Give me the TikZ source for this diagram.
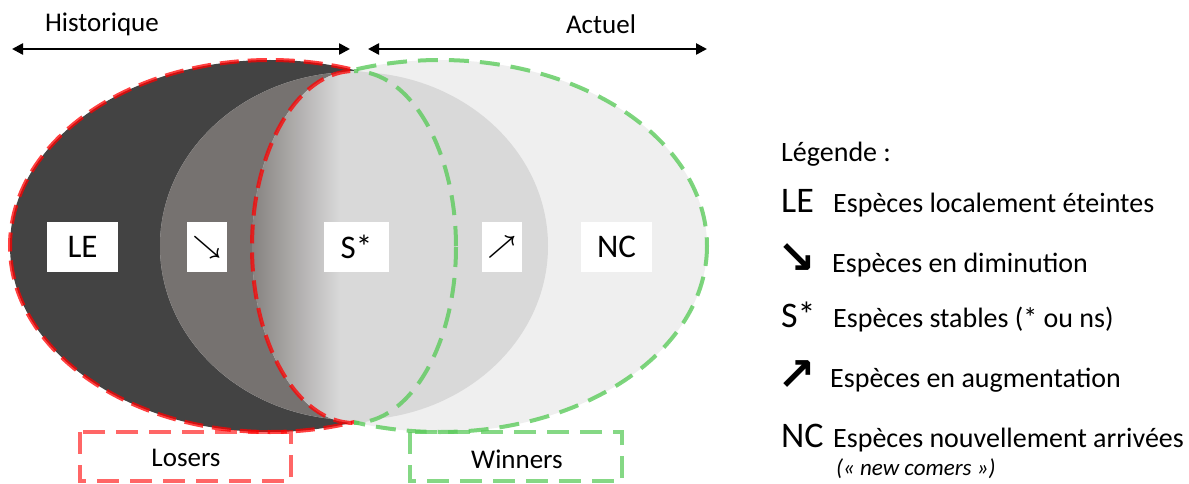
\documentclass[tikz,border=0pt]{standalone}
\usepackage{fontspec}
\setmainfont{Carlito}
\newfontfamily\dejavu{DejaVu Sans}
\usetikzlibrary{arrows.meta}
\definecolor{cdark}{HTML}{434343}
\definecolor{cout}{HTML}{EFEFEF}
\definecolor{cmidl}{HTML}{D9D9D9}
\definecolor{cmidg}{HTML}{767270}
\definecolor{cgradl}{HTML}{85817F}
\definecolor{cred}{HTML}{FF0000}
\definecolor{cgreen}{HTML}{5CCB5C}
\newcommand{\fs}[1]{\fontsize{#1}{#1}\selectfont}
\tikzset{
  reddash/.style={draw=cred, draw opacity=0.75, line width=4pt, dash pattern=on 19pt off 9pt},
  greendash/.style={draw=cgreen, draw opacity=0.8, line width=4pt, dash pattern=on 20pt off 11pt},
  boxred/.style={draw=cred, draw opacity=0.6, line width=4pt, dash pattern=on 22pt off 11pt},
  boxgreen/.style={draw=cgreen, draw opacity=0.75, line width=4pt, dash pattern=on 22pt off 11pt},
  timearrow/.style={line width=2.5pt, {Triangle[length=11pt,width=11pt]}-{Triangle[length=11pt,width=11pt]}},
  lbl/.style={fill=white, inner sep=0pt, minimum height=50pt, font=\fs{33}},
  boxarrow/.style={lbl, minimum width=40pt, font=\fs{28}\boldmath},
  legarrow/.style={font=\dejavu\bfseries\fs{46}, inner sep=0pt},
  toptxt/.style={font=\fs{27}, inner sep=0pt},
  legsym/.style={font=\fs{36}, inner sep=0pt, anchor=base west},
  legtxt/.style={font=\fs{28}, inner sep=0pt, anchor=base west},
}
\begin{document}
\begin{tikzpicture}[x=1pt,y=-1pt]
\useasboundingbox (0,0) rectangle (1189,484);
% fills
\begin{scope}
  \clip (0,0) rectangle (354,484);
  \fill[cdark] (270,246) ellipse [x radius=260, y radius=186];
\end{scope}
\begin{scope}
  \clip (354,0) rectangle (1189,484);
  \fill[cout] (440,246) ellipse [x radius=267, y radius=186];
\end{scope}
\fill[cmidl] (354,246) ellipse [x radius=194, y radius=174];
\begin{scope}
  \clip (354,246) ellipse [x radius=194, y radius=174];
  \fill[cmidg] (0,0) rectangle (354,484);
\end{scope}
\begin{scope}
  \clip (354,247) ellipse [x radius=102, y radius=176];
  \fill[cmidl] (250,0) rectangle (460,484);
  \shade[left color=cgradl, right color=cmidl] (251,0) rectangle (340,484);
\end{scope}
% outlines
\begin{scope}
  \clip (0,0) rectangle (354,484);
  \draw[reddash] (270,246) ellipse [x radius=260, y radius=186];
  \draw[reddash] (354,247) ellipse [x radius=102, y radius=176];
\end{scope}
\begin{scope}
  \clip (354,0) rectangle (1189,484);
  \draw[greendash] (440,246) ellipse [x radius=267, y radius=186];
  \draw[greendash] (354,247) ellipse [x radius=102, y radius=176];
\end{scope}
% time arrows
\node[toptxt] (hist) at (102,24) {Historique};
\node[toptxt] (act) at (601,24) {Actuel};
\coordinate (hl) at (12,49);
\coordinate (hr) at (350,49);
\coordinate (al) at (368,49);
\coordinate (ar) at (707,49);
\draw[timearrow] (hl) -- (hr);
\draw[timearrow] (al) -- (ar);
% label boxes
\node[lbl, minimum width=71pt] (le) at (82.5,247) {LE};
\node[boxarrow] (dn) at (207,247) {$\searrow$};
\node[lbl, minimum width=65pt] (st) at (356.5,247) {S*};
\node[boxarrow] (up) at (502,247) {$\nearrow$};
\node[lbl, minimum width=71pt] (nc) at (616.5,247) {NC};
% losers / winners
\draw[boxred] (80,432) rectangle (291,481);
\node[font=\fs{27}, inner sep=0pt] (los) at (186,458) {Losers};
\draw[boxgreen] (410,432) rectangle (622,481);
\node[font=\fs{27}, inner sep=0pt] (win) at (517,459) {Winners};
% legend
\node[legtxt] (leg) at (781,162) {Légende :};
\node[legsym] (lle) at (781,212) {LE};
\node[legtxt] (tle) at (833,212) {Espèces localement éteintes};
\node[legarrow] (ldn) at (797,259) {↘};
\node[legtxt] (tdn) at (832,272) {Espèces en diminution};
\node[legsym] (lst) at (781,327) {S*};
\node[legtxt] (tst) at (833,327) {Espèces stables (* ou ns)};
\node[legarrow] (lup) at (797,376) {↗};
\node[legtxt] (tup) at (830,387) {Espèces en augmentation};
\node[legsym] (lnc) at (781,447) {NC};
\node[legtxt] (tnc) at (833,447) {Espèces nouvellement arrivées};
\node[font=\itshape\fs{23}, inner sep=0pt, anchor=base west] (tnc2) at (836,475) {(« new comers »)};
\end{tikzpicture}
\end{document}
